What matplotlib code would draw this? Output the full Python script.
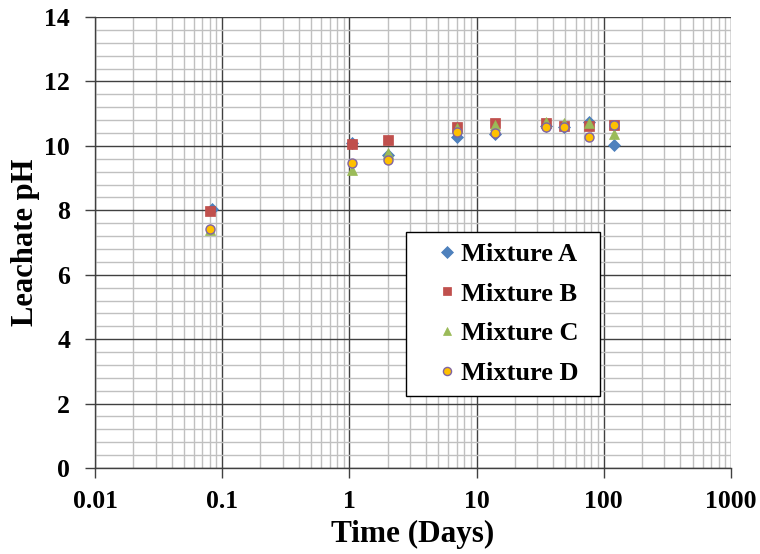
import matplotlib
matplotlib.use("Agg")
import matplotlib.pyplot as plt
from matplotlib.ticker import LogLocator, NullFormatter, MultipleLocator

# sampling times (days) and leachate pH per mixture
time_a = [0.083, 1.04, 2, 7, 14, 35, 49, 77, 120]
time_bcd = [0.08, 1.04, 2, 7, 14, 35, 49, 77, 120]
ph_a = [8.03, 10.10, 9.72, 10.29, 10.36, 10.62, 10.58, 10.73, 10.04]
ph_b = [7.98, 10.06, 10.19, 10.58, 10.70, 10.70, 10.62, 10.61, 10.65]
ph_c = [7.40, 9.25, 9.78, 10.55, 10.65, 10.74, 10.72, 10.70, 10.37]
ph_d = [7.42, 9.46, 9.57, 10.43, 10.39, 10.58, 10.58, 10.29, 10.66]

x_ticks = [0.01, 0.1, 1, 10, 100, 1000]
x_labels = ["0.01", "0.1", "1", "10", "100", "1000"]

plt.rcParams["font.family"] = ["Liberation Serif", "DejaVu Serif"]
plt.rcParams["font.weight"] = "bold"

fig = plt.figure(figsize=(7.6, 5.54), dpi=100)
ax = fig.add_axes([0.125, 0.1552, 0.8368, 0.8141])

ax.plot(time_a, ph_a, "D", color="#4F81BD", markersize=6.5, markeredgewidth=0.5,
        markeredgecolor="#4A7EBB", label="Mixture A", zorder=3)
ax.plot(time_bcd, ph_b, "s", color="#C0504D", markersize=6.5, markeredgewidth=0.5,
        markeredgecolor="#BE4B48", label="Mixture B", zorder=3)
ax.plot(time_bcd, ph_c, "^", color="#9BBB59", markersize=7, markeredgewidth=0.5,
        markeredgecolor="#98B954", label="Mixture C", zorder=3)
ax.plot(time_bcd, ph_d, "o", color="#FFC000", markersize=6.5, markeredgewidth=1,
        markeredgecolor="#8064A2", label="Mixture D", zorder=3)

ax.set_xscale("log")
ax.set_xlim(0.01, 1000)
ax.set_ylim(0, 14)
ax.set_xticks(x_ticks)
ax.set_xticklabels(x_labels)
ax.xaxis.set_minor_locator(LogLocator(base=10, subs=range(2, 10)))
ax.xaxis.set_minor_formatter(NullFormatter())
ax.yaxis.set_major_locator(MultipleLocator(2))
ax.yaxis.set_minor_locator(MultipleLocator(0.4))

ax.grid(True, which="major", color="#404040", linewidth=1.0, zorder=1)
ax.grid(True, which="minor", color="#c0c0c0", linewidth=1.0, zorder=0)
ax.set_axisbelow(True)

for s in ["top", "right"]:
    ax.spines[s].set_visible(False)
for s in ["left", "bottom"]:
    ax.spines[s].set_color("#404040")
    ax.spines[s].set_linewidth(1.0)

ax.tick_params(which="major", direction="out", length=7, width=1, color="#404040",
               labelsize=18.5)
ax.tick_params(axis="x", which="major", pad=9)
ax.tick_params(axis="y", which="major", pad=11)
ax.tick_params(which="minor", length=0)
for lab in ax.get_xticklabels() + ax.get_yticklabels():
    lab.set_fontweight("bold")

ax.set_xlabel("Time (Days)", fontsize=22.5, fontweight="bold", labelpad=5)
ax.set_ylabel("Leachate pH", fontsize=22, fontweight="bold", labelpad=3)

leg = ax.legend(loc="lower left", bbox_to_anchor=(0.489, 0.16, 0.305, 0.36),
                mode="expand", borderaxespad=0,
                prop={"weight": "bold", "size": 19}, frameon=True, fancybox=False,
                edgecolor="black", framealpha=1, handletextpad=-0.6,
                labelspacing=0.62, borderpad=0.4, handlelength=2.3, markerscale=0.9)
leg.get_frame().set_linewidth(1.0)

fig.savefig("out.png", dpi=100)
